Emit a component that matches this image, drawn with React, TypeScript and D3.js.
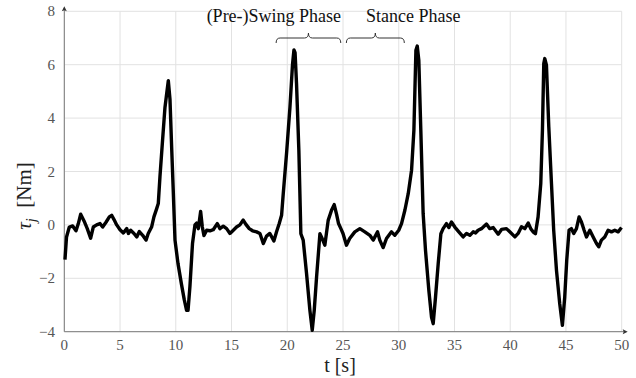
import React from "react";
import * as d3 from "d3";

// time axis [s] and joint torque [Nm]
const time = [
  0.06, 0.2, 0.45, 0.75, 1.05, 1.26, 1.47, 1.77, 2.06, 2.36, 2.6, 2.9, 3.2, 3.44, 3.74, 4.04, 4.25, 4.46, 4.7,
  5.0, 5.3, 5.6, 5.75, 5.95, 6.25, 6.5, 6.73, 7.03, 7.33, 7.53, 7.83, 8.04, 8.28, 8.43, 8.58, 8.82, 9.03, 9.18,
  9.33, 9.48, 9.63, 9.78, 9.93, 10.2, 10.5, 10.76, 10.97, 11.1, 11.27, 11.5, 11.72, 11.87, 12.02, 12.23, 12.38,
  12.53, 12.77, 13.07, 13.36, 13.72, 13.96, 14.26, 14.56, 14.86, 15.16, 15.45, 15.75, 16.05, 16.29, 16.59,
  16.89, 17.25, 17.55, 17.85, 18.14, 18.44, 18.8, 19.04, 19.28, 19.49, 19.64, 19.94, 20.24, 20.47, 20.6, 20.7,
  20.83, 21.04, 21.22, 21.43, 21.73, 22.03, 22.24, 22.42, 22.63, 22.93, 23.13, 23.37, 23.67, 23.97, 24.21,
  24.42, 24.6, 24.81, 25.0, 25.31, 25.6, 26.06, 26.51, 26.96, 27.41, 27.71, 28.1, 28.3, 28.6, 28.9, 29.35,
  29.65, 30.0, 30.25, 30.55, 30.85, 31.15, 31.36, 31.54, 31.66, 31.8, 31.98, 32.19, 32.4, 32.7, 32.94, 33.09,
  33.3, 33.54, 33.78, 33.98, 34.28, 34.5, 34.73, 35.03, 35.39, 35.78, 36.08, 36.38, 36.68, 36.9, 37.12, 37.42,
  37.87, 38.17, 38.47, 38.92, 39.22, 39.66, 39.96, 40.42, 40.71, 41.01, 41.31, 41.61, 41.84, 42.05, 42.26,
  42.5, 42.74, 42.89, 43.01, 43.1, 43.25, 43.46, 43.7, 43.9, 44.15, 44.44, 44.68, 44.89, 45.07, 45.28, 45.49,
  45.7, 45.94, 46.18, 46.39, 46.63, 46.84, 47.14, 47.44, 47.74, 47.94, 48.18, 48.48, 48.78, 49.08, 49.38,
  49.68, 49.98,
];
const torque = [
  -1.3, -0.45, -0.08, -0.04, -0.22, 0.05, 0.4, 0.15, -0.14, -0.5, -0.08, 0, 0.05, -0.08, 0.1, 0.3, 0.36, 0.2, 0,
  -0.18, -0.3, -0.14, -0.32, -0.2, -0.32, -0.45, -0.25, -0.39, -0.57, -0.32, -0.08, 0.3, 0.6, 0.8, 1.8, 3.2, 4.4,
  4.9, 5.4, 4.7, 2.9, 1.2, -0.57, -1.45, -2.2, -2.8, -3.2, -3.2, -2.3, -0.7, 0, 0.07, -0.14, 0.5, -0.08, -0.4,
  -0.2, -0.22, -0.18, 0.05, -0.14, -0.05, -0.14, -0.32, -0.2, -0.08, 0, 0.18, 0.02, -0.14, -0.22, -0.26, -0.32,
  -0.7, -0.42, -0.32, -0.6, -0.26, 0.05, 0.36, 1.17, 2.7, 4.4, 6.0, 6.55, 6.45, 5.3, 2.8, -0.33, -0.57, -1.82,
  -3.2, -3.95, -3.2, -1.95, -0.33, -0.51, -0.76, 0.17, 0.55, 0.76, 0.4, 0.05, -0.14, -0.32, -0.76, -0.51, -0.26,
  -0.14, -0.26, -0.39, -0.57, -0.26, -0.57, -0.85, -0.51, -0.26, -0.39, -0.2, 0.05, 0.55, 1.17, 2.05, 3.55,
  6.54, 6.7, 6.17, 3.55, 0.42, -0.95, -2.45, -3.45, -3.7, -2.7, -1.45, -0.33, -0.14, 0.05, -0.1, 0.11, -0.08,
  -0.26, -0.45, -0.32, -0.39, -0.26, -0.3, -0.2, -0.14, 0.03, -0.14, -0.1, -0.35, -0.17, -0.14, -0.26, -0.45,
  -0.32, -0.07, -0.14, 0.07, -0.14, -0.26, -0.33, 0.3, 1.55, 3.55, 6.04, 6.23, 5.98, 3.67, 1.55, -0.2, -1.7,
  -2.95, -3.76, -2.7, -1.32, -0.2, -0.14, -0.32, -0.14, 0.3, 0.11, -0.2, -0.45, -0.2, -0.45, -0.7, -0.82,
  -0.57, -0.45, -0.2, -0.26, -0.2, -0.26, -0.1,
];

const xTicks = [0, 5, 10, 15, 20, 25, 30, 35, 40, 45, 50];
const yTicks = [-4, -2, 0, 2, 4, 6, 8];

// phase annotations: label, label centre, brace start / end (in s)
const phaseLabels = ["(Pre-)Swing Phase", "Stance Phase"];
const phaseLabelX = [18.8, 31.3];
const braceFrom = [19.0, 25.3];
const braceTo = [24.8, 30.5];

const W = 636;
const H = 378;
const serif = { fontFamily: '"Liberation Serif", "Times New Roman", "DejaVu Serif", serif' };

// curly brace, opening downwards
function bracePath(x1: number, x2: number, yEnd: number, yTip: number) {
  const ym = (yEnd + yTip) / 2;
  const xm = (x1 + x2) / 2;
  const r = 4;
  return [
    `M${x1},${yEnd}`,
    `Q${x1},${ym} ${x1 + r},${ym}`,
    `L${xm - r},${ym}`,
    `Q${xm},${ym} ${xm},${yTip}`,
    `Q${xm},${ym} ${xm + r},${ym}`,
    `L${x2 - r},${ym}`,
    `Q${x2},${ym} ${x2},${yEnd}`,
  ].join(" ");
}

export default function App() {
  const x = d3.scaleLinear().domain([0, 50]).range([64.3, 621.7]);
  const y = d3.scaleLinear().domain([-4, 8]).range([331.7, 11.3]);

  const pts = time.map((t, i) => [t, torque[i]] as [number, number]);
  const line = d3
    .line<[number, number]>()
    .x((d) => x(d[0]))
    .y((d) => y(d[1]));

  const gridColor = "#e2e2e2";
  const axisColor = "#7a7a7a";
  const tickColor = "#555";

  return (
    <svg width={W} height={H} style={{ position: "absolute", left: 0, top: 0, background: "#fff" }}>
      {/* grid */}
      {xTicks.map((t) => (
        <line key={"gx" + t} x1={x(t)} x2={x(t)} y1={y(8)} y2={y(-4)} stroke={gridColor} strokeWidth={1} />
      ))}
      {yTicks.map((t) => (
        <line key={"gy" + t} x1={x(0)} x2={x(50)} y1={y(t)} y2={y(t)} stroke={gridColor} strokeWidth={1} />
      ))}

      {/* axes with arrow heads */}
      <line x1={x(0)} x2={x(50) + 4} y1={y(-4)} y2={y(-4)} stroke={axisColor} strokeWidth={1} />
      <path
        d={`M${x(50) + 6},${y(-4)} L${x(50) + 1},${y(-4) - 2.5} L${x(50) + 2},${y(-4)} L${x(50) + 1},${y(-4) + 2.5} Z`}
        fill="#333"
      />
      <line x1={x(0)} x2={x(0)} y1={y(-4)} y2={y(8) - 3} stroke={axisColor} strokeWidth={1} />
      <path
        d={`M${x(0)},${y(8) - 5} L${x(0) - 2.5},${y(8)} L${x(0)},${y(8) - 1} L${x(0) + 2.5},${y(8)} Z`}
        fill="#333"
      />

      {/* tick labels */}
      {xTicks.map((t) => (
        <text key={"tx" + t} x={x(t)} y={350} textAnchor="middle" style={serif} fontSize={15} fill={tickColor}>
          {t}
        </text>
      ))}
      {yTicks.map((t) => (
        <text key={"ty" + t} x={55} y={y(t) + 5} textAnchor="end" style={serif} fontSize={15} fill={tickColor}>
          {t < 0 ? "\u2212" + Math.abs(t) : t}
        </text>
      ))}

      {/* axis titles */}
      <text x={340} y={372} textAnchor="middle" style={serif} fontSize={20} fill="#222">
        t [s]
      </text>
      <text transform={`translate(31,${196}) rotate(-90)`} textAnchor="middle" style={serif} fontSize={21} fill="#222">
        <tspan fontStyle="italic">τ</tspan>
        <tspan fontStyle="italic" fontSize={14} dy={5}>
          j
        </tspan>
        <tspan dy={-5}>{"\u2002[Nm]"}</tspan>
      </text>

      {/* phase annotations */}
      {phaseLabels.map((l, i) => (
        <g key={l}>
          <text x={x(phaseLabelX[i])} y={22} textAnchor="middle" style={serif} fontSize={18} fill="#111">
            {l}
          </text>
          <path
            d={bracePath(x(braceFrom[i]), x(braceTo[i]), 43, 33)}
            fill="none"
            stroke="#333"
            strokeWidth={1}
          />
        </g>
      ))}

      {/* torque signal */}
      <path d={line(pts) || ""} fill="none" stroke="#000" strokeWidth={3.4} strokeLinejoin="round" />
    </svg>
  );
}
